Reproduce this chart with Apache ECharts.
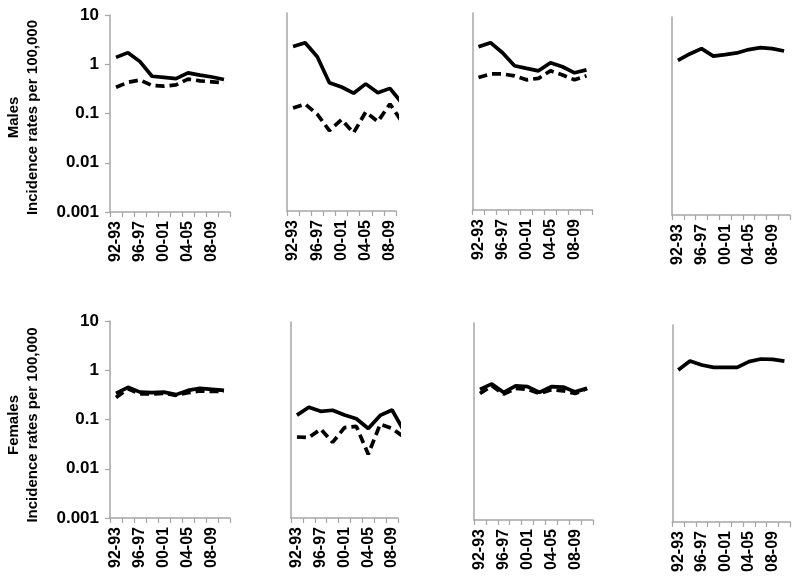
<!DOCTYPE html>
<html>
<head>
<meta charset="utf-8">
<script src="https://cdn.jsdelivr.net/npm/echarts@6/dist/echarts.min.js"></script>
<style>
  html, body { margin: 0; padding: 0; background: #fff; }
  #chart { width: 800px; height: 584px; }
</style>
</head>
<body>
<div id="chart"></div>
<script>
const categories = ['92-93', '94-95', '96-97', '98-99', '00-01', '02-03', '04-05', '06-07', '08-09', '10-11']
const yTickLabels = ['0.001', '0.01', '0.1', '1', '10']

// males, row 1
const malesP1Solid = [1.38, 1.72, 1.13, 0.57, 0.54, 0.51, 0.67, 0.60, 0.55, 0.49]
const malesP1Dashed = [0.34, 0.43, 0.48, 0.37, 0.36, 0.38, 0.50, 0.46, 0.44, 0.42]
const malesP2Solid = [2.1, 2.5, 1.31, 0.39, 0.32, 0.24, 0.37, 0.245, 0.30, 0.15]
const malesP2Dashed = [0.12, 0.145, 0.09, 0.042, 0.07, 0.038, 0.10, 0.064, 0.145, 0.063]
const malesP3Solid = [2.07, 2.5, 1.56, 0.85, 0.75, 0.67, 0.98, 0.81, 0.61, 0.70]
const malesP3Dashed = [0.49, 0.58, 0.58, 0.53, 0.44, 0.47, 0.67, 0.55, 0.44, 0.53]
const malesP4Solid = [1.33, 1.79, 2.3, 1.62, 1.74, 1.88, 2.2, 2.4, 2.29, 2.06]

// females, row 2
const femalesP1Solid = [0.34, 0.45, 0.36, 0.35, 0.36, 0.32, 0.39, 0.43, 0.41, 0.39]
const femalesP1Dashed = [0.28, 0.42, 0.33, 0.33, 0.34, 0.31, 0.35, 0.38, 0.37, 0.37]
const femalesP2Solid = [0.126, 0.182, 0.15, 0.158, 0.126, 0.106, 0.067, 0.124, 0.16, 0.06]
const femalesP2Dashed = [0.045, 0.044, 0.065, 0.035, 0.07, 0.074, 0.02, 0.082, 0.067, 0.045]
const femalesP3Solid = [0.45, 0.58, 0.39, 0.53, 0.51, 0.39, 0.51, 0.50, 0.40, 0.47]
const femalesP3Dashed = [0.37, 0.53, 0.36, 0.47, 0.45, 0.37, 0.44, 0.42, 0.37, 0.47]
const femalesP4Solid = [1.22, 1.85, 1.54, 1.38, 1.38, 1.38, 1.8, 2.04, 2.0, 1.85]

const FONT = '"Liberation Sans", Arial, sans-serif'
const AXIS_GREY = '#a6a6a6'

// panels 2 and 6 are cut off after the 08-09 band in the original
const panels = [
  { box: [110, 15, 120, 197], solid: malesP1Solid, dashed: malesP1Dashed, name: 'Males\nIncidence rates per 100,000', shift: 8 },
  { box: [287, 13, 109, 198], solid: malesP2Solid, dashed: malesP2Dashed, cut: true },
  { box: [472.5, 13, 120, 197], solid: malesP3Solid, dashed: malesP3Dashed },
  { box: [672, 17, 118, 198], solid: malesP4Solid },
  { box: [110, 321, 120, 197], solid: femalesP1Solid, dashed: femalesP1Dashed, name: 'Females\nIncidence rates per 100,000', shift: 11 },
  { box: [291, 322, 107, 196], solid: femalesP2Solid, dashed: femalesP2Dashed, cut: true },
  { box: [474, 323, 119, 197], solid: femalesP3Solid, dashed: femalesP3Dashed },
  { box: [672.3, 325, 118, 197], solid: femalesP4Solid }
]

const chart = echarts.init(document.getElementById('chart'))

const grid = []
const xAxis = []
const yAxis = []
const series = []

panels.forEach((p, i) => {
  const [left, top, width, height] = p.box
  const hasLabels = !!p.name

  grid.push({ left, top, width, height })

  xAxis.push({
    type: 'category',
    gridIndex: i,
    data: categories,
    max: p.cut ? 8 : null,
    boundaryGap: true,
    axisLine: { onZero: false, lineStyle: { color: AXIS_GREY, width: 1.5 } },
    axisTick: { show: true, interval: 0, length: 5, lineStyle: { color: AXIS_GREY, width: 1.2 } },
    axisLabel: {
      interval: 1,
      rotate: 90,
      margin: 9,
      color: '#000',
      fontFamily: FONT,
      fontWeight: 'bold',
      fontSize: 16
    },
    splitLine: { show: false }
  })

  yAxis.push({
    type: 'log',
    gridIndex: i,
    logBase: 10,
    min: 0.001,
    max: 10,
    name: p.name || '',
    nameLocation: 'middle',
    nameRotate: 90,
    nameGap: 68,
    nameTextStyle: {
      color: '#000',
      fontFamily: FONT,
      fontWeight: 'bold',
      fontSize: 15,
      lineHeight: 19,
      align: 'center',
      padding: [0, p.shift || 0, 0, 0]
    },
    axisLine: { show: true, lineStyle: { color: AXIS_GREY, width: 1.5 } },
    axisTick: { show: hasLabels, length: 5, lineStyle: { color: AXIS_GREY, width: 1.2 } },
    axisLabel: {
      show: hasLabels,
      margin: 11,
      color: '#000',
      fontFamily: FONT,
      fontWeight: 'bold',
      fontSize: 17,
      formatter: v => yTickLabels[Math.round(Math.log10(v)) + 3]
    },
    splitLine: { show: false }
  })

  series.push({
    type: 'line',
    xAxisIndex: i,
    yAxisIndex: i,
    data: p.solid,
    symbol: 'none',
    clip: true,
    lineStyle: { color: '#000', width: 3.7 }
  })

  if (p.dashed) {
    series.push({
      type: 'line',
      xAxisIndex: i,
      yAxisIndex: i,
      data: p.dashed,
      symbol: 'none',
      clip: true,
      lineStyle: { color: '#000', width: 3.7, type: [9, 5] }
    })
  }
})

chart.setOption({
  animation: false,
  backgroundColor: '#fff',
  grid,
  xAxis,
  yAxis,
  series
})
</script>
</body>
</html>
